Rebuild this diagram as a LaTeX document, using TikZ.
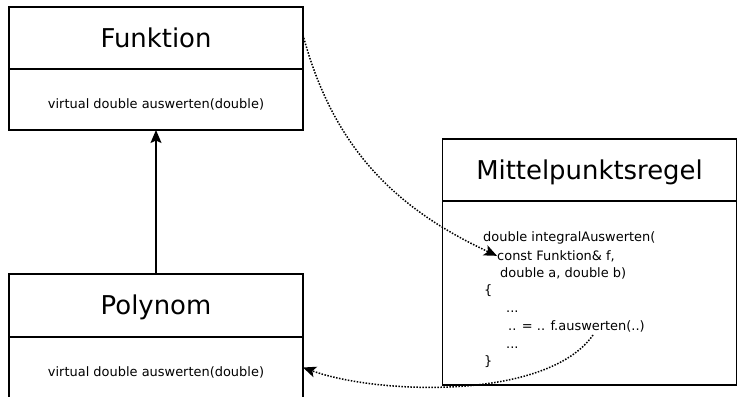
\documentclass[tikz,border=0pt]{standalone}
\usepackage{fontspec}
\setmainfont{DejaVu Sans}
\usetikzlibrary{arrows.meta}

\begin{document}
\begin{tikzpicture}[x=1bp, y=1bp,
    kopf/.style={draw, line width=1.5bp, outer sep=0pt, inner sep=0pt,
        minimum width=294bp, minimum height=62bp,
        text height=19bp, text depth=1bp, font=\fontsize{26}{30}\selectfont},
    rumpf/.style={draw, line width=1.5bp, outer sep=0pt, inner sep=0pt,
        minimum width=294bp, minimum height=61bp,
        text height=17bp, text depth=0bp, font=\fontsize{13}{16}\selectfont},
    zeile/.style={anchor=base west, inner sep=0pt, font=\fontsize{13}{16}\selectfont},
    erbt/.style={line width=1.5bp, -{Stealth[length=13bp, width=11bp, inset=2.5bp]}},
    ruf/.style={line width=1.5bp, dash pattern=on 1.5bp off 1.5bp,
        -{Stealth[length=13bp, width=11bp, inset=3bp]}}]
\useasboundingbox (0,0) rectangle (737,396);

% Klassen
\node[kopf] (funk) at (156,358) {Funktion};
\node[rumpf] (funkr) at (156,296.5) {virtual double auswerten(double)};
\node[kopf, minimum height=63bp] (poly) at (156,90.5) {Polynom};
\node[rumpf] (polyr) at (156,28.5) {virtual double auswerten(double)};
\node[kopf] (mitte) at (589.5,226) {Mittelpunktsregel};
\node[rumpf, minimum height=184bp] (mitter) at (589.5,103) {};

% Code
\node[zeile] (kopfzeile) at (483,155) {double integralAuswerten(};
\node[zeile] (param) at (497,136) {const Funktion\& f,};
\node[zeile] (grenzen) at (500,119) {double a, double b)};
\node[zeile] (auf) at (484,102) {\{};
\node[zeile] (pkt1) at (506,84) {...};
\node[zeile] (aufruf) at (508,66) {.. = .. f.auswerten(..)};
\node[zeile] (pkt2) at (506,48) {...};
\node[zeile] (zu) at (484,31) {\}};
\coordinate (ruf) at (593,61);

% Verbindungen
\draw[erbt] (poly) -- (funkr);
\draw[ruf] ([yshift=3bp]funk.east) to[out=-75, in=155] (param.west);
\draw[ruf] (ruf) to[out=-125, in=-20, looseness=0.7] (polyr.east);
\end{tikzpicture}
\end{document}
